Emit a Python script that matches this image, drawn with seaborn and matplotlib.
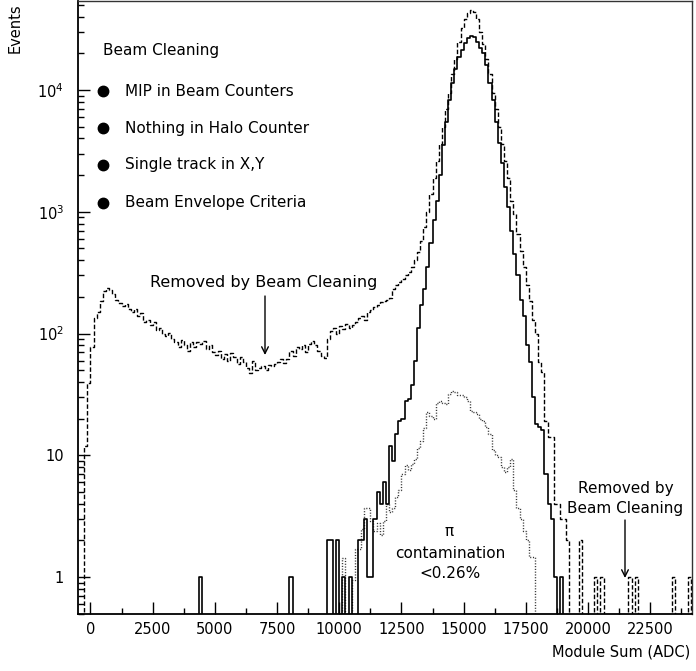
import numpy as np
import pandas as pd
import matplotlib
matplotlib.use("Agg")
import matplotlib.pyplot as plt
import seaborn as sns
from matplotlib.ticker import FixedLocator, FixedFormatter, NullFormatter

# ---------------- data ----------------
BIN_WIDTH = 125
X_MIN = -500
N_BINS = 198

# dashed: all events, before beam cleaning (bins from X_MIN)
before_start = -500
before_counts = [
    0, 0, 12, 39, 77, 135, 150, 185, 225, 235,
    228, 210, 190, 177, 168, 175, 158, 150, 160, 140,
    146, 125, 130, 118, 124, 106, 110, 100, 95, 101,
    90, 85, 78, 88, 80, 72, 85, 78, 85, 82,
    86, 75, 80, 70, 66, 72, 62, 68, 60, 69,
    64, 56, 64, 58, 52, 47, 60, 50, 52, 54,
    50, 55, 54, 56, 58, 62, 57, 62, 72, 65,
    77, 75, 80, 70, 82, 86, 80, 72, 65, 63,
    90, 105, 112, 100, 115, 108, 120, 112, 118, 125,
    133, 140, 128, 150, 155, 165, 170, 180, 185, 190,
    195, 230, 250, 265, 280, 300, 320, 350, 400, 470,
    580, 750, 1000, 1400, 1900, 2600, 3600, 5000, 7000, 9500,
    13500, 18000, 25000, 32000, 38000, 43000, 45000, 44000, 38000, 30000,
    24000, 18000, 13500, 9500, 7000, 5000, 3600, 2600, 1900, 1230,
    950, 660, 480, 350, 250, 186, 130, 100, 58, 48,
    19, 14, 14, 4, 4, 3, 3, 2,
]
before_tail_lo = [19625, 20250, 20500, 21625, 21875, 23375, 24000]
before_tail_n = [2, 1, 1, 1, 1, 1, 1]

# solid: after beam cleaning
after_spike_lo = [4375, 8000]
after_spike_n = [1, 1]
after_start = 9500
after_counts = [
    2, 2, 0, 2, 0, 1, 0, 1, 0, 0,
    2, 2, 3, 1, 1, 3, 5, 4, 6, 4,
    12, 9, 15, 19, 20, 28, 29, 38, 60, 110,
    170, 230, 350, 550, 850, 1230, 2000, 3500, 5500, 8200,
    11500, 15000, 18500, 21500, 24500, 26500, 27500, 27000, 25000, 22000,
    20000, 16000, 11500, 8200, 5500, 3700, 2500, 1600, 1100, 700,
    450, 300, 190, 140, 80, 58, 30, 18, 17, 16,
    7, 4, 3, 1, 0, 1,
]

# dotted: pion contamination
pion_start = 10125
pion_counts = [
    1.43, 0, 0, 0.95, 1.7, 1.7, 2.5, 3.7, 3.7, 2.9,
    2.4, 2.8, 2.2, 2.9, 4, 3.4, 3.7, 4.5, 5.2, 7,
    8.3, 7.5, 8.5, 9.4, 11.4, 13, 16.6, 22.5, 21, 20,
    27, 28, 27, 26.5, 32, 34, 33, 31, 31, 30,
    28, 23, 22.5, 22, 20, 19, 17, 15, 11, 10,
    9.6, 8, 7.3, 8, 9.3, 5.2, 3.7, 3, 2.4, 2,
    1.46, 1.46,
]

x_ticks = [0, 2500, 5000, 7500, 10000, 12500, 15000, 17500, 20000, 22500]
y_ticks = [1, 10, 100, 1000, 10000]
y_tick_labels = ["1", "10", "$10^{2}$", "$10^{3}$", "$10^{4}$"]
criteria = ["MIP in Beam Counters", "Nothing in Halo Counter",
            "Single track in X,Y", "Beam Envelope Criteria"]

# ---------------- assemble ----------------
edges = X_MIN + BIN_WIDTH * np.arange(N_BINS + 1)


def full(start, counts, extra_lo=(), extra_n=()):
    arr = np.zeros(N_BINS)
    i0 = (start - X_MIN) // BIN_WIDTH
    arr[i0:i0 + len(counts)] = counts
    for lo, n in zip(extra_lo, extra_n):
        arr[(lo - X_MIN) // BIN_WIDTH] = n
    return arr


series = {
    "before": full(before_start, before_counts, before_tail_lo, before_tail_n),
    "after": full(after_start, after_counts, after_spike_lo, after_spike_n),
    "pion": full(pion_start, pion_counts),
}
# step outline: one point per bin edge (steps-post), last value repeated
df = pd.concat([pd.DataFrame({"edge": edges,
                              "count": np.append(v, v[-1]),
                              "series": k})
                for k, v in series.items()], ignore_index=True)

# ---------------- plot ----------------
sns.set_style("ticks")
plt.rcParams["font.family"] = ["DejaVu Sans"]
plt.rcParams["mathtext.fontset"] = "dejavusans"
for key in ["text.color", "axes.labelcolor", "xtick.color", "ytick.color",
            "axes.edgecolor"]:
    plt.rcParams[key] = "black"

W, H = 696, 671
fig = plt.figure(figsize=(W / 100, H / 100), dpi=100)
ax = fig.add_axes([78 / W, 57 / H, 614 / W, 613 / H])

styles = {
    "before": dict(linestyle=(0, (3.2, 1.6)), linewidth=1.0, color="black"),
    "after": dict(linestyle="-", linewidth=1.2, color="black"),
    "pion": dict(linestyle=(0, (0.8, 1.2)), linewidth=1.0, color="#333333"),
}
ax.set_yscale("log", nonpositive="clip")
for name in ["before", "pion", "after"]:
    sns.lineplot(data=df[df["series"] == name], x="edge", y="count",
                 estimator=None, sort=False, drawstyle="steps-post",
                 ax=ax, **styles[name])

ax.set_xlim(-500, 24180)
ax.set_ylim(0.497, 53800)
ax.set_xlabel("")
ax.set_ylabel("")

ax.xaxis.set_major_locator(FixedLocator(x_ticks))
ax.xaxis.set_minor_locator(FixedLocator([t + 1250 for t in x_ticks]))
ax.yaxis.set_major_locator(FixedLocator(y_ticks))
ax.yaxis.set_major_formatter(FixedFormatter(y_tick_labels))
minor_y = [m * 10.0 ** e for e in range(-1, 5) for m in range(2, 10)]
ax.yaxis.set_minor_locator(FixedLocator(minor_y))
ax.yaxis.set_minor_formatter(NullFormatter())
ax.tick_params(which="both", direction="in", top=False, right=False,
               labelsize=10.5, color="black", labelcolor="black", width=1.0)
ax.tick_params(which="major", length=8.5, pad=6)
ax.tick_params(which="minor", length=4.3)
ax.tick_params(axis="y", which="major", pad=10)

for s in ["left", "bottom"]:
    ax.spines[s].set_linewidth(1.3)
    ax.spines[s].set_color("black")
for s in ["top", "right"]:
    ax.spines[s].set_linewidth(1.0)
    ax.spines[s].set_color("#333333")


def P(px, py):
    return ((px - 78) / 614, (614 - py) / 613)


fs = 11
ax.text(*P(103, 50), "Beam Cleaning", transform=ax.transAxes,
        ha="left", va="center", fontsize=fs, color="black")
for py, label in zip([91, 128, 165, 203], criteria):
    ax.plot(*P(103, py), marker="o", ms=7.5, color="black",
            transform=ax.transAxes, clip_on=False)
    ax.text(*P(125, py), label, transform=ax.transAxes,
            ha="left", va="center", fontsize=fs, color="black")

ax.text(*P(264, 283), "Removed by Beam Cleaning", transform=ax.transAxes,
        ha="center", va="center", fontsize=11.5, color="black")
ax.annotate("", xy=P(265, 355), xytext=P(265, 296), xycoords="axes fraction",
            textcoords="axes fraction",
            arrowprops=dict(arrowstyle="->", lw=1.0, color="black",
                            mutation_scale=12, shrinkA=0, shrinkB=0))

ax.text(*P(449, 532), "π", transform=ax.transAxes,
        ha="center", va="center", fontsize=fs, color="black")
ax.text(*P(450, 553), "contamination", transform=ax.transAxes,
        ha="center", va="center", fontsize=fs, color="black")
ax.text(*P(450, 574), "<0.26%", transform=ax.transAxes,
        ha="center", va="center", fontsize=fs, color="black")

ax.text(*P(626, 488), "Removed by", transform=ax.transAxes,
        ha="center", va="center", fontsize=fs, color="black")
ax.text(*P(625, 508), "Beam Cleaning", transform=ax.transAxes,
        ha="center", va="center", fontsize=fs, color="black")
ax.annotate("", xy=P(625, 578), xytext=P(625, 520), xycoords="axes fraction",
            textcoords="axes fraction",
            arrowprops=dict(arrowstyle="->", lw=1.0, color="black",
                            mutation_scale=12, shrinkA=0, shrinkB=0))

fig.text(15 / W, 1 - 3 / H, "Events", rotation=90, ha="center", va="top",
         fontsize=10.5, color="black")
fig.text(690 / W, 1 - 652 / H, "Module Sum (ADC)", ha="right", va="center",
         fontsize=10.5, color="black")

fig.savefig("out.png", dpi=100)
